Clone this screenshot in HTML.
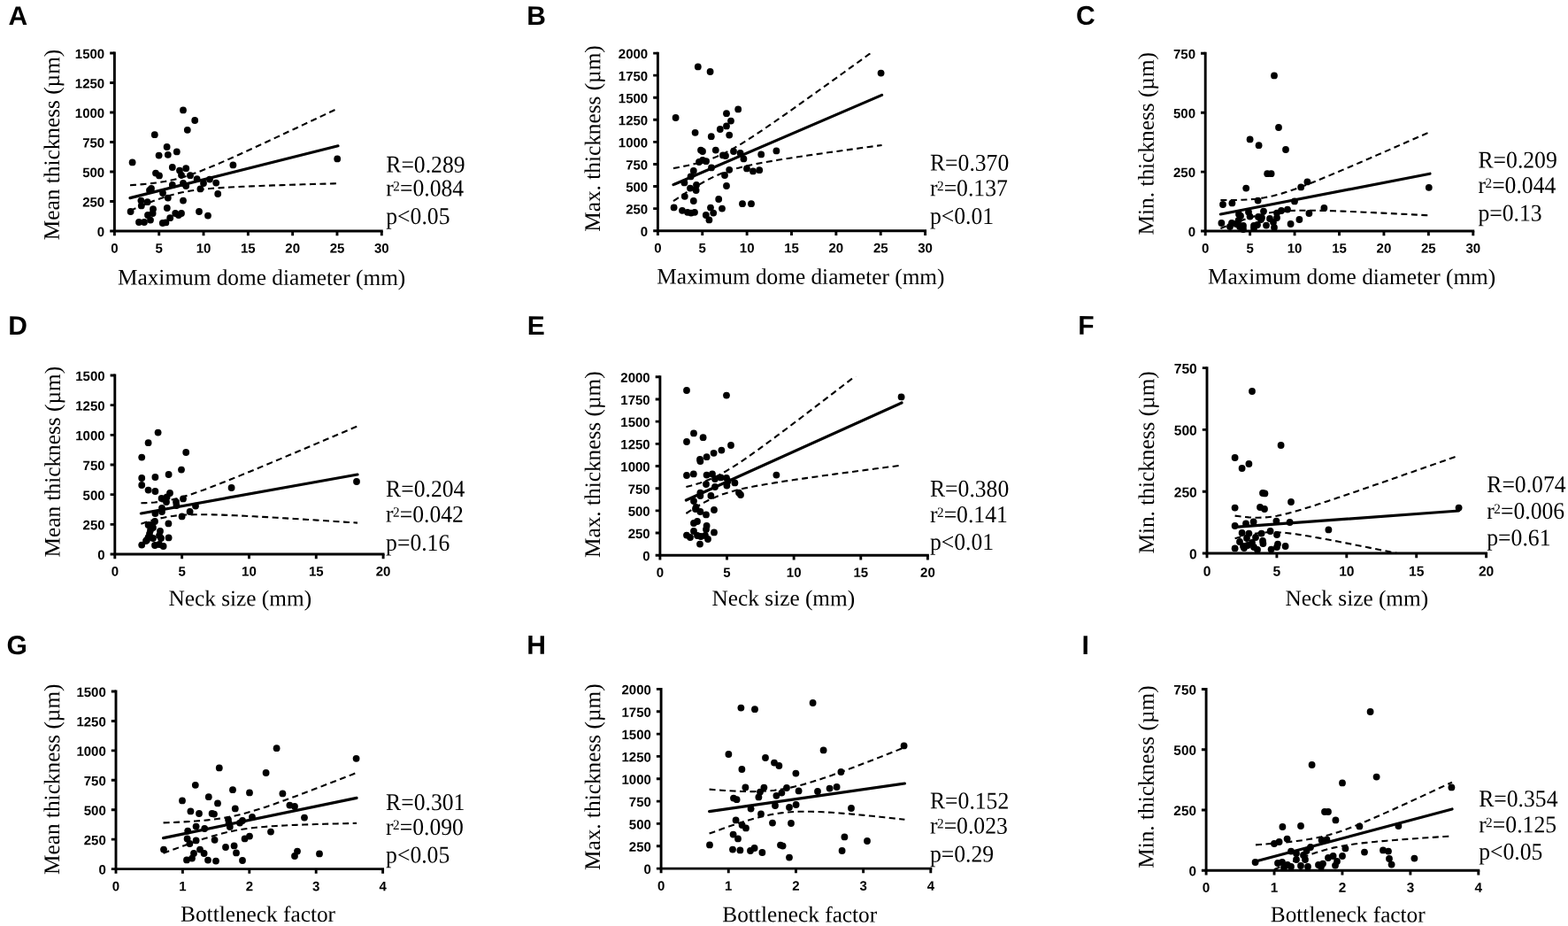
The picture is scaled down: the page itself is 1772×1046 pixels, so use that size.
<!DOCTYPE html>
<html><head><meta charset="utf-8"><title>Figure</title>
<style>html,body{margin:0;padding:0;background:#fff;overflow:hidden;}svg{display:block;}</style></head>
<body><svg width="1772" height="1046" viewBox="0 0 1772 1046">
<rect width="1772" height="1046" fill="#fff"/>
<clipPath id="cA"><rect x="129.4" y="60" width="301.9" height="201"/></clipPath>
<g clip-path="url(#cA)" fill="none" stroke="#000" stroke-width="2.1" stroke-dasharray="7 4.5"><polyline points="147,209.2 151.9,208.87 156.79,208.5 161.69,208.1 166.58,207.64 171.48,207.11 176.38,206.52 181.27,205.83 186.17,205.03 191.06,204.1 195.96,203.04 200.85,201.83 205.75,200.47 210.65,198.97 215.54,197.34 220.44,195.6 225.33,193.76 230.23,191.85 235.12,189.87 240.02,187.84 244.92,185.76 249.81,183.65 254.71,181.5 259.6,179.34 264.5,177.15 269.4,174.94 274.29,172.72 279.19,170.49 284.08,168.25 288.98,166 293.88,163.74 298.77,161.47 303.67,159.2 308.56,156.93 313.46,154.64 318.35,152.36 323.25,150.07 328.15,147.77 333.04,145.48 337.94,143.18 342.83,140.88 347.73,138.57 352.62,136.27 357.52,133.96 362.42,131.65 367.31,129.34 372.21,127.03 377.1,124.71 382,122.4"/><polyline points="147,238 151.9,235.88 156.79,233.8 161.69,231.75 166.58,229.76 171.48,227.84 176.38,225.98 181.27,224.22 186.17,222.57 191.06,221.05 195.96,219.66 200.85,218.42 205.75,217.33 210.65,216.38 215.54,215.56 220.44,214.85 225.33,214.24 230.23,213.7 235.12,213.23 240.02,212.81 244.92,212.44 249.81,212.1 254.71,211.8 259.6,211.51 264.5,211.25 269.4,211.01 274.29,210.78 279.19,210.56 284.08,210.35 288.98,210.15 293.88,209.96 298.77,209.78 303.67,209.6 308.56,209.42 313.46,209.26 318.35,209.09 323.25,208.93 328.15,208.78 333.04,208.62 337.94,208.47 342.83,208.32 347.73,208.18 352.62,208.03 357.52,207.89 362.42,207.75 367.31,207.61 372.21,207.47 377.1,207.34 382,207.2"/></g>
<line x1="147" y1="223.6" x2="382" y2="164.8" stroke="#000" stroke-width="3.2" stroke-linecap="round"/>
<g><circle cx="207" cy="124.4" r="3.9"/><circle cx="220.2" cy="136" r="3.9"/><circle cx="211.8" cy="146.8" r="3.9"/><circle cx="174.8" cy="152.2" r="3.9"/><circle cx="188.6" cy="166" r="3.9"/><circle cx="199.8" cy="171.4" r="3.9"/><circle cx="179.6" cy="175.6" r="3.9"/><circle cx="189.8" cy="174.8" r="3.9"/><circle cx="149.6" cy="183.4" r="3.9"/><circle cx="263.4" cy="186.4" r="3.9"/><circle cx="381.2" cy="179.4" r="3.9"/><circle cx="194.8" cy="189" r="3.9"/><circle cx="203" cy="192.6" r="3.9"/><circle cx="210.2" cy="190.2" r="3.9"/><circle cx="176" cy="195.6" r="3.9"/><circle cx="180" cy="198.4" r="3.9"/><circle cx="205" cy="197.8" r="3.9"/><circle cx="215" cy="198.2" r="3.9"/><circle cx="222.6" cy="202.2" r="3.9"/><circle cx="237" cy="202.6" r="3.9"/><circle cx="244.2" cy="206.6" r="3.9"/><circle cx="230" cy="207" r="3.9"/><circle cx="207" cy="207" r="3.9"/><circle cx="210.2" cy="210" r="3.9"/><circle cx="194.8" cy="209" r="3.9"/><circle cx="171" cy="213" r="3.9"/><circle cx="169" cy="215" r="3.9"/><circle cx="226.4" cy="213.4" r="3.9"/><circle cx="246.2" cy="219" r="3.9"/><circle cx="184" cy="218" r="3.9"/><circle cx="189.8" cy="223.6" r="3.9"/><circle cx="159.4" cy="226.6" r="3.9"/><circle cx="166.6" cy="228.2" r="3.9"/><circle cx="159.8" cy="232.4" r="3.9"/><circle cx="207" cy="226.6" r="3.9"/><circle cx="188.8" cy="235" r="3.9"/><circle cx="173" cy="236.2" r="3.9"/><circle cx="147.6" cy="239" r="3.9"/><circle cx="172.6" cy="241" r="3.9"/><circle cx="225" cy="239" r="3.9"/><circle cx="235" cy="243.6" r="3.9"/><circle cx="167" cy="243" r="3.9"/><circle cx="170" cy="248.6" r="3.9"/><circle cx="198.2" cy="241" r="3.9"/><circle cx="201.8" cy="243" r="3.9"/><circle cx="205" cy="241" r="3.9"/><circle cx="192.2" cy="246.2" r="3.9"/><circle cx="157" cy="251" r="3.9"/><circle cx="163" cy="251" r="3.9"/><circle cx="183.8" cy="252" r="3.9"/><circle cx="187.4" cy="251.4" r="3.9"/></g>
<path d="M129.4 60V261H431.3" fill="none" stroke="#000" stroke-width="2.9" stroke-linecap="square"/>
<path d="M124.2 261H129.4M124.2 227.5H129.4M124.2 194H129.4M124.2 160.5H129.4M124.2 127H129.4M124.2 93.5H129.4M124.2 60H129.4M129.4 261V266.2M179.72 261V266.2M230.03 261V266.2M280.35 261V266.2M330.67 261V266.2M380.98 261V266.2M431.3 261V266.2" fill="none" stroke="#000" stroke-width="2.9"/>
<g font-family="'Liberation Sans', Arial, sans-serif" font-weight="bold" font-size="15"><text transform="translate(118.2 267) rotate(0.1)" text-anchor="end">0</text><text transform="translate(118.2 233.5) rotate(0.1)" text-anchor="end">250</text><text transform="translate(118.2 200) rotate(0.1)" text-anchor="end">500</text><text transform="translate(118.2 166.5) rotate(0.1)" text-anchor="end">750</text><text transform="translate(118.2 133) rotate(0.1)" text-anchor="end">1000</text><text transform="translate(118.2 99.5) rotate(0.1)" text-anchor="end">1250</text><text transform="translate(118.2 66) rotate(0.1)" text-anchor="end">1500</text><text transform="translate(129.4 285.6) rotate(0.1)" text-anchor="middle">0</text><text transform="translate(179.72 285.6) rotate(0.1)" text-anchor="middle">5</text><text transform="translate(230.03 285.6) rotate(0.1)" text-anchor="middle">10</text><text transform="translate(280.35 285.6) rotate(0.1)" text-anchor="middle">15</text><text transform="translate(330.67 285.6) rotate(0.1)" text-anchor="middle">20</text><text transform="translate(380.98 285.6) rotate(0.1)" text-anchor="middle">25</text><text transform="translate(431.3 285.6) rotate(0.1)" text-anchor="middle">30</text></g>
<g font-family="'Liberation Serif', 'Times New Roman', serif" font-size="27"><text transform="translate(436.3 194.6) rotate(0.1) scale(0.95 1)">R=0.289</text><text transform="translate(436.3 221.3) rotate(0.1) scale(0.95 1)">r<tspan font-size="16" dx="-0.7" dy="-5.9">2</tspan><tspan dx="0.2" dy="5.9">=0.084</tspan></text><text transform="translate(436.3 252.9) rotate(0.1) scale(0.95 1)">p&lt;0.05</text></g>
<text transform="translate(133 321.5) rotate(0.1)" font-family="'Liberation Serif', 'Times New Roman', serif" font-size="25.3">Maximum dome diameter (mm)</text>
<text transform="translate(66.8 271.2) rotate(-89.9)" font-family="'Liberation Serif', 'Times New Roman', serif" font-size="25.3">Mean thickness (µm)</text>
<text transform="translate(9.4 28) rotate(0.1)" font-family="'Liberation Sans', Arial, sans-serif" font-weight="bold" font-size="30">A</text>
<clipPath id="cB"><rect x="743.4" y="60.1" width="302.2" height="200.6"/></clipPath>
<g clip-path="url(#cB)" fill="none" stroke="#000" stroke-width="2.1" stroke-dasharray="7 4.5"><polyline points="761,190.1 765.91,189.18 770.82,188.21 775.73,187.18 780.63,186.09 785.54,184.9 790.45,183.61 795.36,182.18 800.27,180.61 805.17,178.85 810.08,176.9 814.99,174.75 819.9,172.4 824.81,169.86 829.72,167.15 834.62,164.29 839.53,161.32 844.44,158.25 849.35,155.1 854.26,151.88 859.17,148.61 864.08,145.3 868.98,141.95 873.89,138.57 878.8,135.17 883.71,131.75 888.62,128.3 893.52,124.85 898.43,121.38 903.34,117.9 908.25,114.41 913.16,110.91 918.07,107.41 922.98,103.9 927.88,100.38 932.79,96.86 937.7,93.34 942.61,89.81 947.52,86.27 952.43,82.74 957.33,79.2 962.24,75.65 967.15,72.11 972.06,68.56 976.97,65.01 981.88,61.46 986.78,57.91 991.69,54.36 996.6,50.8"/><polyline points="761,227.1 765.91,223.8 770.82,220.56 775.73,217.37 780.63,214.25 785.54,211.22 790.45,208.29 795.36,205.5 800.27,202.86 805.17,200.4 810.08,198.13 814.99,196.07 819.9,194.2 824.81,192.53 829.72,191.02 834.62,189.66 839.53,188.41 844.44,187.27 849.35,186.2 854.26,185.2 859.17,184.25 864.08,183.35 868.98,182.48 873.89,181.65 878.8,180.83 883.71,180.04 888.62,179.26 893.52,178.5 898.43,177.75 903.34,177.02 908.25,176.29 913.16,175.57 918.07,174.86 922.98,174.15 927.88,173.45 932.79,172.75 937.7,172.06 942.61,171.38 947.52,170.69 952.43,170.01 957.33,169.34 962.24,168.66 967.15,167.99 972.06,167.32 976.97,166.65 981.88,165.99 986.78,165.32 991.69,164.66 996.6,164"/></g>
<line x1="761" y1="208.6" x2="996.6" y2="107.4" stroke="#000" stroke-width="3.2" stroke-linecap="round"/>
<g><circle cx="788.8" cy="75.4" r="3.9"/><circle cx="802.6" cy="81" r="3.9"/><circle cx="995.6" cy="82.6" r="3.9"/><circle cx="834.2" cy="123.4" r="3.9"/><circle cx="821" cy="128.2" r="3.9"/><circle cx="763.6" cy="133" r="3.9"/><circle cx="826" cy="136.6" r="3.9"/><circle cx="821" cy="142.4" r="3.9"/><circle cx="813.8" cy="146" r="3.9"/><circle cx="785.6" cy="149.8" r="3.9"/><circle cx="803.8" cy="154.2" r="3.9"/><circle cx="824.2" cy="152.6" r="3.9"/><circle cx="792" cy="169.6" r="3.9"/><circle cx="794" cy="171" r="3.9"/><circle cx="808.8" cy="169.6" r="3.9"/><circle cx="829" cy="171" r="3.9"/><circle cx="836.6" cy="173" r="3.9"/><circle cx="877.4" cy="170.4" r="3.9"/><circle cx="860.2" cy="174.4" r="3.9"/><circle cx="817" cy="175.4" r="3.9"/><circle cx="820" cy="176" r="3.9"/><circle cx="840.4" cy="179.4" r="3.9"/><circle cx="790" cy="183" r="3.9"/><circle cx="794" cy="181" r="3.9"/><circle cx="798" cy="182.2" r="3.9"/><circle cx="804" cy="189.4" r="3.9"/><circle cx="783.8" cy="193" r="3.9"/><circle cx="824.2" cy="191.8" r="3.9"/><circle cx="844" cy="190.4" r="3.9"/><circle cx="851" cy="193.4" r="3.9"/><circle cx="858.2" cy="192.2" r="3.9"/><circle cx="780.6" cy="199.4" r="3.9"/><circle cx="819" cy="198" r="3.9"/><circle cx="773.4" cy="206.4" r="3.9"/><circle cx="787" cy="209" r="3.9"/><circle cx="780" cy="212.6" r="3.9"/><circle cx="786.6" cy="215" r="3.9"/><circle cx="821" cy="210" r="3.9"/><circle cx="773.8" cy="221.8" r="3.9"/><circle cx="783.8" cy="227" r="3.9"/><circle cx="812.2" cy="225" r="3.9"/><circle cx="761.6" cy="234.4" r="3.9"/><circle cx="839" cy="230.2" r="3.9"/><circle cx="849" cy="230.2" r="3.9"/><circle cx="771" cy="237.8" r="3.9"/><circle cx="777" cy="239.8" r="3.9"/><circle cx="781" cy="240.6" r="3.9"/><circle cx="785" cy="239.8" r="3.9"/><circle cx="803" cy="234.6" r="3.9"/><circle cx="816" cy="235.6" r="3.9"/><circle cx="806.2" cy="240.6" r="3.9"/><circle cx="797.8" cy="243" r="3.9"/><circle cx="801.4" cy="248.4" r="3.9"/></g>
<path d="M743.4 60.1V260.7H1045.6" fill="none" stroke="#000" stroke-width="2.9" stroke-linecap="square"/>
<path d="M738.2 260.7H743.4M738.2 235.62H743.4M738.2 210.55H743.4M738.2 185.47H743.4M738.2 160.4H743.4M738.2 135.32H743.4M738.2 110.25H743.4M738.2 85.17H743.4M738.2 60.1H743.4M743.4 260.7V265.9M793.77 260.7V265.9M844.13 260.7V265.9M894.5 260.7V265.9M944.87 260.7V265.9M995.23 260.7V265.9M1045.6 260.7V265.9" fill="none" stroke="#000" stroke-width="2.9"/>
<g font-family="'Liberation Sans', Arial, sans-serif" font-weight="bold" font-size="15"><text transform="translate(732.2 266.7) rotate(0.1)" text-anchor="end">0</text><text transform="translate(732.2 241.62) rotate(0.1)" text-anchor="end">250</text><text transform="translate(732.2 216.55) rotate(0.1)" text-anchor="end">500</text><text transform="translate(732.2 191.47) rotate(0.1)" text-anchor="end">750</text><text transform="translate(732.2 166.4) rotate(0.1)" text-anchor="end">1000</text><text transform="translate(732.2 141.32) rotate(0.1)" text-anchor="end">1250</text><text transform="translate(732.2 116.25) rotate(0.1)" text-anchor="end">1500</text><text transform="translate(732.2 91.17) rotate(0.1)" text-anchor="end">1750</text><text transform="translate(732.2 66.1) rotate(0.1)" text-anchor="end">2000</text><text transform="translate(743.4 285.3) rotate(0.1)" text-anchor="middle">0</text><text transform="translate(793.77 285.3) rotate(0.1)" text-anchor="middle">5</text><text transform="translate(844.13 285.3) rotate(0.1)" text-anchor="middle">10</text><text transform="translate(894.5 285.3) rotate(0.1)" text-anchor="middle">15</text><text transform="translate(944.87 285.3) rotate(0.1)" text-anchor="middle">20</text><text transform="translate(995.23 285.3) rotate(0.1)" text-anchor="middle">25</text><text transform="translate(1045.6 285.3) rotate(0.1)" text-anchor="middle">30</text></g>
<g font-family="'Liberation Serif', 'Times New Roman', serif" font-size="27"><text transform="translate(1051 192.6) rotate(0.1) scale(0.95 1)">R=0.370</text><text transform="translate(1051 221.2) rotate(0.1) scale(0.95 1)">r<tspan font-size="16" dx="-0.7" dy="-5.9">2</tspan><tspan dx="0.2" dy="5.9">=0.137</tspan></text><text transform="translate(1051 252.8) rotate(0.1) scale(0.95 1)">p&lt;0.01</text></g>
<text transform="translate(742.2 320.5) rotate(0.1)" font-family="'Liberation Serif', 'Times New Roman', serif" font-size="25.3">Maximum dome diameter (mm)</text>
<text transform="translate(678 261.8) rotate(-89.9)" font-family="'Liberation Serif', 'Times New Roman', serif" font-size="25.3">Max. thickness (µm)</text>
<text transform="translate(595.3 28) rotate(0.1)" font-family="'Liberation Sans', Arial, sans-serif" font-weight="bold" font-size="30">B</text>
<clipPath id="cC"><rect x="1362.2" y="60.3" width="302.6" height="200.7"/></clipPath>
<g clip-path="url(#cC)" fill="none" stroke="#000" stroke-width="2.1" stroke-dasharray="7 4.5"><polyline points="1379.4,226 1384.33,226.05 1389.26,226.06 1394.19,226.02 1399.12,225.93 1404.05,225.77 1408.98,225.52 1413.9,225.17 1418.83,224.7 1423.76,224.09 1428.69,223.32 1433.62,222.38 1438.55,221.28 1443.48,220.02 1448.41,218.62 1453.34,217.09 1458.27,215.45 1463.2,213.72 1468.12,211.92 1473.05,210.06 1477.98,208.15 1482.91,206.2 1487.84,204.22 1492.77,202.21 1497.7,200.18 1502.63,198.14 1507.56,196.07 1512.49,193.99 1517.42,191.9 1522.35,189.8 1527.28,187.69 1532.2,185.58 1537.13,183.45 1542.06,181.33 1546.99,179.19 1551.92,177.05 1556.85,174.91 1561.78,172.77 1566.71,170.62 1571.64,168.46 1576.57,166.31 1581.5,164.15 1586.42,161.99 1591.35,159.83 1596.28,157.67 1601.21,155.5 1606.14,153.34 1611.07,151.17 1616,149"/><polyline points="1379.4,258 1384.33,256.04 1389.26,254.13 1394.19,252.25 1399.12,250.44 1404.05,248.69 1408.98,247.03 1413.9,245.47 1418.83,244.03 1423.76,242.74 1428.69,241.6 1433.62,240.62 1438.55,239.82 1443.48,239.17 1448.41,238.67 1453.34,238.29 1458.27,238.02 1463.2,237.84 1468.12,237.73 1473.05,237.68 1477.98,237.68 1482.91,237.72 1487.84,237.79 1492.77,237.89 1497.7,238.02 1502.63,238.16 1507.56,238.31 1512.49,238.48 1517.42,238.66 1522.35,238.86 1527.28,239.06 1532.2,239.26 1537.13,239.48 1542.06,239.7 1546.99,239.92 1551.92,240.15 1556.85,240.39 1561.78,240.63 1566.71,240.87 1571.64,241.11 1576.57,241.36 1581.5,241.61 1586.42,241.86 1591.35,242.11 1596.28,242.36 1601.21,242.62 1606.14,242.88 1611.07,243.14 1616,243.4"/></g>
<line x1="1379.4" y1="242" x2="1616" y2="196.2" stroke="#000" stroke-width="3.2" stroke-linecap="round"/>
<g><circle cx="1440" cy="85.4" r="3.9"/><circle cx="1445" cy="144" r="3.9"/><circle cx="1412.6" cy="157.4" r="3.9"/><circle cx="1422.6" cy="164.2" r="3.9"/><circle cx="1453" cy="169" r="3.9"/><circle cx="1432.2" cy="196.2" r="3.9"/><circle cx="1436.6" cy="196.2" r="3.9"/><circle cx="1408.2" cy="212.6" r="3.9"/><circle cx="1470.2" cy="211.4" r="3.9"/><circle cx="1477.4" cy="205.4" r="3.9"/><circle cx="1614.8" cy="211.8" r="3.9"/><circle cx="1382" cy="231" r="3.9"/><circle cx="1392.4" cy="229.4" r="3.9"/><circle cx="1421.6" cy="226.6" r="3.9"/><circle cx="1463" cy="227.4" r="3.9"/><circle cx="1496.4" cy="235" r="3.9"/><circle cx="1455" cy="236.6" r="3.9"/><circle cx="1448" cy="238" r="3.9"/><circle cx="1443" cy="240.6" r="3.9"/><circle cx="1428" cy="238.6" r="3.9"/><circle cx="1411" cy="239.4" r="3.9"/><circle cx="1400" cy="242" r="3.9"/><circle cx="1402" cy="244" r="3.9"/><circle cx="1412.6" cy="244.6" r="3.9"/><circle cx="1422" cy="245" r="3.9"/><circle cx="1426" cy="246" r="3.9"/><circle cx="1435" cy="247" r="3.9"/><circle cx="1443" cy="246" r="3.9"/><circle cx="1479.4" cy="241" r="3.9"/><circle cx="1380.4" cy="252" r="3.9"/><circle cx="1392" cy="252" r="3.9"/><circle cx="1399.6" cy="249" r="3.9"/><circle cx="1405" cy="255" r="3.9"/><circle cx="1417" cy="255" r="3.9"/><circle cx="1421" cy="254" r="3.9"/><circle cx="1431" cy="254.6" r="3.9"/><circle cx="1439" cy="251" r="3.9"/><circle cx="1440" cy="257" r="3.9"/><circle cx="1458.6" cy="253" r="3.9"/><circle cx="1468.4" cy="248" r="3.9"/><circle cx="1390" cy="256" r="3.9"/><circle cx="1401" cy="256" r="3.9"/><circle cx="1405" cy="259" r="3.9"/><circle cx="1417" cy="258" r="3.9"/><circle cx="1397" cy="253" r="3.9"/><circle cx="1425" cy="248" r="3.9"/></g>
<path d="M1362.2 60.3V261H1664.8" fill="none" stroke="#000" stroke-width="2.9" stroke-linecap="square"/>
<path d="M1357 261H1362.2M1357 194.1H1362.2M1357 127.2H1362.2M1357 60.3H1362.2M1362.2 261V266.2M1412.63 261V266.2M1463.07 261V266.2M1513.5 261V266.2M1563.93 261V266.2M1614.37 261V266.2M1664.8 261V266.2" fill="none" stroke="#000" stroke-width="2.9"/>
<g font-family="'Liberation Sans', Arial, sans-serif" font-weight="bold" font-size="15"><text transform="translate(1351 267) rotate(0.1)" text-anchor="end">0</text><text transform="translate(1351 200.1) rotate(0.1)" text-anchor="end">250</text><text transform="translate(1351 133.2) rotate(0.1)" text-anchor="end">500</text><text transform="translate(1351 66.3) rotate(0.1)" text-anchor="end">750</text><text transform="translate(1362.2 285.6) rotate(0.1)" text-anchor="middle">0</text><text transform="translate(1412.63 285.6) rotate(0.1)" text-anchor="middle">5</text><text transform="translate(1463.07 285.6) rotate(0.1)" text-anchor="middle">10</text><text transform="translate(1513.5 285.6) rotate(0.1)" text-anchor="middle">15</text><text transform="translate(1563.93 285.6) rotate(0.1)" text-anchor="middle">20</text><text transform="translate(1614.37 285.6) rotate(0.1)" text-anchor="middle">25</text><text transform="translate(1664.8 285.6) rotate(0.1)" text-anchor="middle">30</text></g>
<g font-family="'Liberation Serif', 'Times New Roman', serif" font-size="27"><text transform="translate(1670.5 189.4) rotate(0.1) scale(0.95 1)">R=0.209</text><text transform="translate(1670.5 218) rotate(0.1) scale(0.95 1)">r<tspan font-size="16" dx="-0.7" dy="-5.9">2</tspan><tspan dx="0.2" dy="5.9">=0.044</tspan></text><text transform="translate(1670.5 249.5) rotate(0.1) scale(0.95 1)">p=0.13</text></g>
<text transform="translate(1364.9 320.6) rotate(0.1)" font-family="'Liberation Serif', 'Times New Roman', serif" font-size="25.3">Maximum dome diameter (mm)</text>
<text transform="translate(1303.5 265.4) rotate(-89.9)" font-family="'Liberation Serif', 'Times New Roman', serif" font-size="25.3">Min. thickness (µm)</text>
<text transform="translate(1216.1 27.8) rotate(0.1)" font-family="'Liberation Sans', Arial, sans-serif" font-weight="bold" font-size="30">C</text>
<clipPath id="cD"><rect x="129.8" y="424" width="303.3" height="202"/></clipPath>
<g clip-path="url(#cD)" fill="none" stroke="#000" stroke-width="2.1" stroke-dasharray="7 4.5"><polyline points="159.4,568.3 164.5,568.12 169.59,567.84 174.69,567.44 179.78,566.89 184.88,566.17 189.97,565.29 195.07,564.23 200.17,563 205.26,561.63 210.36,560.12 215.45,558.5 220.55,556.78 225.65,554.99 230.74,553.14 235.84,551.25 240.93,549.31 246.03,547.33 251.12,545.33 256.22,543.31 261.32,541.26 266.41,539.2 271.51,537.13 276.6,535.05 281.7,532.95 286.8,530.85 291.89,528.74 296.99,526.62 302.08,524.49 307.18,522.37 312.27,520.23 317.37,518.1 322.47,515.95 327.56,513.81 332.66,511.66 337.75,509.51 342.85,507.36 347.95,505.2 353.04,503.05 358.14,500.89 363.23,498.73 368.33,496.57 373.42,494.4 378.52,492.24 383.62,490.07 388.71,487.91 393.81,485.74 398.9,483.57 404,481.4"/><polyline points="159.4,591.7 164.5,590.04 169.59,588.49 174.69,587.06 179.78,585.78 184.88,584.66 189.97,583.71 195.07,582.94 200.17,582.33 205.26,581.87 210.36,581.55 215.45,581.34 220.55,581.22 225.65,581.17 230.74,581.19 235.84,581.25 240.93,581.36 246.03,581.5 251.12,581.67 256.22,581.86 261.32,582.07 266.41,582.3 271.51,582.54 276.6,582.79 281.7,583.05 286.8,583.32 291.89,583.6 296.99,583.88 302.08,584.17 307.18,584.47 312.27,584.77 317.37,585.07 322.47,585.38 327.56,585.69 332.66,586 337.75,586.32 342.85,586.64 347.95,586.96 353.04,587.29 358.14,587.61 363.23,587.94 368.33,588.27 373.42,588.6 378.52,588.93 383.62,589.26 388.71,589.59 393.81,589.93 398.9,590.26 404,590.6"/></g>
<line x1="159.4" y1="580" x2="404" y2="536" stroke="#000" stroke-width="3.2" stroke-linecap="round"/>
<g><circle cx="178.6" cy="488.6" r="3.9"/><circle cx="167.6" cy="500.2" r="3.9"/><circle cx="210.2" cy="511" r="3.9"/><circle cx="160.2" cy="516.6" r="3.9"/><circle cx="205" cy="530.6" r="3.9"/><circle cx="190.6" cy="536" r="3.9"/><circle cx="160.2" cy="540" r="3.9"/><circle cx="175.4" cy="539" r="3.9"/><circle cx="160.2" cy="548" r="3.9"/><circle cx="167.6" cy="553.6" r="3.9"/><circle cx="175.4" cy="555" r="3.9"/><circle cx="261.6" cy="551" r="3.9"/><circle cx="403" cy="544" r="3.9"/><circle cx="192" cy="557" r="3.9"/><circle cx="182.6" cy="563" r="3.9"/><circle cx="188.6" cy="561.4" r="3.9"/><circle cx="188" cy="567" r="3.9"/><circle cx="207" cy="563.4" r="3.9"/><circle cx="199" cy="567" r="3.9"/><circle cx="199.4" cy="571" r="3.9"/><circle cx="221" cy="571.6" r="3.9"/><circle cx="183" cy="574" r="3.9"/><circle cx="183" cy="578" r="3.9"/><circle cx="214.6" cy="578" r="3.9"/><circle cx="175.4" cy="580" r="3.9"/><circle cx="205.6" cy="583.4" r="3.9"/><circle cx="190.4" cy="591.4" r="3.9"/><circle cx="175" cy="589" r="3.9"/><circle cx="171" cy="593" r="3.9"/><circle cx="167.6" cy="593" r="3.9"/><circle cx="173" cy="596" r="3.9"/><circle cx="170" cy="599" r="3.9"/><circle cx="181" cy="600" r="3.9"/><circle cx="169" cy="603" r="3.9"/><circle cx="180" cy="605" r="3.9"/><circle cx="167.6" cy="607" r="3.9"/><circle cx="173" cy="608" r="3.9"/><circle cx="182" cy="608" r="3.9"/><circle cx="190.6" cy="607.4" r="3.9"/><circle cx="165" cy="611" r="3.9"/><circle cx="160.2" cy="615.6" r="3.9"/><circle cx="175" cy="616" r="3.9"/><circle cx="180" cy="615" r="3.9"/><circle cx="184.6" cy="617" r="3.9"/><circle cx="166" cy="610" r="3.9"/></g>
<path d="M129.8 424V626H433.1" fill="none" stroke="#000" stroke-width="2.9" stroke-linecap="square"/>
<path d="M124.6 626H129.8M124.6 592.33H129.8M124.6 558.67H129.8M124.6 525H129.8M124.6 491.33H129.8M124.6 457.67H129.8M124.6 424H129.8M129.8 626V631.2M205.62 626V631.2M281.45 626V631.2M357.28 626V631.2M433.1 626V631.2" fill="none" stroke="#000" stroke-width="2.9"/>
<g font-family="'Liberation Sans', Arial, sans-serif" font-weight="bold" font-size="15"><text transform="translate(118.6 632) rotate(0.1)" text-anchor="end">0</text><text transform="translate(118.6 598.33) rotate(0.1)" text-anchor="end">250</text><text transform="translate(118.6 564.67) rotate(0.1)" text-anchor="end">500</text><text transform="translate(118.6 531) rotate(0.1)" text-anchor="end">750</text><text transform="translate(118.6 497.33) rotate(0.1)" text-anchor="end">1000</text><text transform="translate(118.6 463.67) rotate(0.1)" text-anchor="end">1250</text><text transform="translate(118.6 430) rotate(0.1)" text-anchor="end">1500</text><text transform="translate(129.8 650.6) rotate(0.1)" text-anchor="middle">0</text><text transform="translate(205.62 650.6) rotate(0.1)" text-anchor="middle">5</text><text transform="translate(281.45 650.6) rotate(0.1)" text-anchor="middle">10</text><text transform="translate(357.28 650.6) rotate(0.1)" text-anchor="middle">15</text><text transform="translate(433.1 650.6) rotate(0.1)" text-anchor="middle">20</text></g>
<g font-family="'Liberation Serif', 'Times New Roman', serif" font-size="27"><text transform="translate(436.1 560.9) rotate(0.1) scale(0.95 1)">R=0.204</text><text transform="translate(436.1 589.6) rotate(0.1) scale(0.95 1)">r<tspan font-size="16" dx="-0.7" dy="-5.9">2</tspan><tspan dx="0.2" dy="5.9">=0.042</tspan></text><text transform="translate(436.1 621.8) rotate(0.1) scale(0.95 1)">p=0.16</text></g>
<text transform="translate(190.5 684.1) rotate(0.1)" font-family="'Liberation Serif', 'Times New Roman', serif" font-size="25.3">Neck size (mm)</text>
<text transform="translate(67.6 629.4) rotate(-89.9)" font-family="'Liberation Serif', 'Times New Roman', serif" font-size="25.3">Mean thickness (µm)</text>
<text transform="translate(9.2 378) rotate(0.1)" font-family="'Liberation Sans', Arial, sans-serif" font-weight="bold" font-size="30">D</text>
<clipPath id="cE"><rect x="745.9" y="425.8" width="302.5" height="201.4"/></clipPath>
<g clip-path="url(#cE)" fill="none" stroke="#000" stroke-width="2.1" stroke-dasharray="7 4.5"><polyline points="775.4,550 780.48,548.73 785.55,547.32 790.62,545.76 795.7,544.01 800.77,542.04 805.85,539.84 810.92,537.4 816,534.74 821.07,531.86 826.15,528.8 831.23,525.59 836.3,522.26 841.38,518.82 846.45,515.3 851.52,511.72 856.6,508.09 861.67,504.41 866.75,500.69 871.83,496.95 876.9,493.18 881.98,489.39 887.05,485.59 892.12,481.77 897.2,477.94 902.27,474.09 907.35,470.24 912.42,466.38 917.5,462.51 922.58,458.64 927.65,454.76 932.73,450.87 937.8,446.99 942.88,443.09 947.95,439.19 953.02,435.29 958.1,431.39 963.17,427.49 968.25,423.58 973.33,419.67 978.4,415.76 983.48,411.84 988.55,407.93 993.62,404.01 998.7,400.09 1003.77,396.17 1008.85,392.25 1013.92,388.32 1019,384.4"/><polyline points="775.4,580 780.48,576.69 785.55,573.51 790.62,570.49 795.7,567.66 800.77,565.04 805.85,562.66 810.92,560.51 816,558.6 821.07,556.89 826.15,555.36 831.23,553.99 836.3,552.74 841.38,551.6 846.45,550.53 851.52,549.53 856.6,548.58 861.67,547.68 866.75,546.81 871.83,545.97 876.9,545.15 881.98,544.36 887.05,543.58 892.12,542.81 897.2,542.06 902.27,541.32 907.35,540.59 912.42,539.87 917.5,539.15 922.58,538.44 927.65,537.74 932.73,537.04 937.8,536.35 942.88,535.66 947.95,534.97 953.02,534.29 958.1,533.61 963.17,532.93 968.25,532.26 973.33,531.58 978.4,530.91 983.48,530.24 988.55,529.57 993.62,528.91 998.7,528.24 1003.77,527.58 1008.85,526.92 1013.92,526.26 1019,525.6"/></g>
<line x1="775.4" y1="565" x2="1019" y2="455" stroke="#000" stroke-width="3.2" stroke-linecap="round"/>
<g><circle cx="776" cy="441" r="3.9"/><circle cx="821" cy="446.6" r="3.9"/><circle cx="1018.6" cy="448.4" r="3.9"/><circle cx="784" cy="489.4" r="3.9"/><circle cx="794.6" cy="494.2" r="3.9"/><circle cx="776" cy="499" r="3.9"/><circle cx="826" cy="503" r="3.9"/><circle cx="815.4" cy="508.6" r="3.9"/><circle cx="806.6" cy="511.8" r="3.9"/><circle cx="798.6" cy="516.2" r="3.9"/><circle cx="791" cy="519" r="3.9"/><circle cx="791.4" cy="521" r="3.9"/><circle cx="776" cy="537" r="3.9"/><circle cx="783.8" cy="535.4" r="3.9"/><circle cx="798.6" cy="536.6" r="3.9"/><circle cx="805" cy="535.4" r="3.9"/><circle cx="808" cy="541" r="3.9"/><circle cx="814.6" cy="539.4" r="3.9"/><circle cx="821" cy="539.8" r="3.9"/><circle cx="822.6" cy="543.4" r="3.9"/><circle cx="830.4" cy="545.4" r="3.9"/><circle cx="798" cy="547" r="3.9"/><circle cx="808" cy="550" r="3.9"/><circle cx="821.4" cy="548.6" r="3.9"/><circle cx="791.4" cy="556.6" r="3.9"/><circle cx="791.4" cy="560" r="3.9"/><circle cx="803.4" cy="560" r="3.9"/><circle cx="835" cy="556.6" r="3.9"/><circle cx="837" cy="559" r="3.9"/><circle cx="877.4" cy="536.6" r="3.9"/><circle cx="784" cy="566" r="3.9"/><circle cx="786.6" cy="573" r="3.9"/><circle cx="786" cy="575" r="3.9"/><circle cx="791.4" cy="578" r="3.9"/><circle cx="798" cy="581.4" r="3.9"/><circle cx="807" cy="576" r="3.9"/><circle cx="788" cy="589" r="3.9"/><circle cx="784" cy="591" r="3.9"/><circle cx="798.6" cy="594" r="3.9"/><circle cx="798" cy="598" r="3.9"/><circle cx="784" cy="600" r="3.9"/><circle cx="807" cy="601.4" r="3.9"/><circle cx="776" cy="604.6" r="3.9"/><circle cx="780" cy="607" r="3.9"/><circle cx="792" cy="606" r="3.9"/><circle cx="797" cy="605" r="3.9"/><circle cx="800" cy="609" r="3.9"/><circle cx="791" cy="614.6" r="3.9"/><circle cx="788" cy="605" r="3.9"/></g>
<path d="M745.9 425.8V627.2H1048.4" fill="none" stroke="#000" stroke-width="2.9" stroke-linecap="square"/>
<path d="M740.7 627.2H745.9M740.7 602.03H745.9M740.7 576.85H745.9M740.7 551.68H745.9M740.7 526.5H745.9M740.7 501.33H745.9M740.7 476.15H745.9M740.7 450.98H745.9M740.7 425.8H745.9M745.9 627.2V632.4M821.52 627.2V632.4M897.15 627.2V632.4M972.78 627.2V632.4M1048.4 627.2V632.4" fill="none" stroke="#000" stroke-width="2.9"/>
<g font-family="'Liberation Sans', Arial, sans-serif" font-weight="bold" font-size="15"><text transform="translate(734.7 633.2) rotate(0.1)" text-anchor="end">0</text><text transform="translate(734.7 608.03) rotate(0.1)" text-anchor="end">250</text><text transform="translate(734.7 582.85) rotate(0.1)" text-anchor="end">500</text><text transform="translate(734.7 557.68) rotate(0.1)" text-anchor="end">750</text><text transform="translate(734.7 532.5) rotate(0.1)" text-anchor="end">1000</text><text transform="translate(734.7 507.33) rotate(0.1)" text-anchor="end">1250</text><text transform="translate(734.7 482.15) rotate(0.1)" text-anchor="end">1500</text><text transform="translate(734.7 456.98) rotate(0.1)" text-anchor="end">1750</text><text transform="translate(734.7 431.8) rotate(0.1)" text-anchor="end">2000</text><text transform="translate(745.9 651.8) rotate(0.1)" text-anchor="middle">0</text><text transform="translate(821.52 651.8) rotate(0.1)" text-anchor="middle">5</text><text transform="translate(897.15 651.8) rotate(0.1)" text-anchor="middle">10</text><text transform="translate(972.78 651.8) rotate(0.1)" text-anchor="middle">15</text><text transform="translate(1048.4 651.8) rotate(0.1)" text-anchor="middle">20</text></g>
<g font-family="'Liberation Serif', 'Times New Roman', serif" font-size="27"><text transform="translate(1051 560.8) rotate(0.1) scale(0.95 1)">R=0.380</text><text transform="translate(1051 589.9) rotate(0.1) scale(0.95 1)">r<tspan font-size="16" dx="-0.7" dy="-5.9">2</tspan><tspan dx="0.2" dy="5.9">=0.141</tspan></text><text transform="translate(1051 620.9) rotate(0.1) scale(0.95 1)">p&lt;0.01</text></g>
<text transform="translate(804.6 683.9) rotate(0.1)" font-family="'Liberation Serif', 'Times New Roman', serif" font-size="25.3">Neck size (mm)</text>
<text transform="translate(678 630) rotate(-89.9)" font-family="'Liberation Serif', 'Times New Roman', serif" font-size="25.3">Max. thickness (µm)</text>
<text transform="translate(595.8 378) rotate(0.1)" font-family="'Liberation Sans', Arial, sans-serif" font-weight="bold" font-size="30">E</text>
<clipPath id="cF"><rect x="1364" y="415.6" width="315.6" height="209.4"/></clipPath>
<g clip-path="url(#cF)" fill="none" stroke="#000" stroke-width="2.1" stroke-dasharray="7 4.5"><polyline points="1395.6,582.6 1400.87,583.29 1406.14,583.89 1411.41,584.35 1416.68,584.65 1421.95,584.75 1427.22,584.62 1432.5,584.22 1437.77,583.57 1443.04,582.69 1448.31,581.6 1453.58,580.36 1458.85,578.99 1464.12,577.52 1469.39,575.98 1474.66,574.38 1479.93,572.74 1485.2,571.06 1490.47,569.35 1495.75,567.62 1501.02,565.88 1506.29,564.11 1511.56,562.34 1516.83,560.55 1522.1,558.76 1527.37,556.95 1532.64,555.15 1537.91,553.33 1543.18,551.51 1548.45,549.69 1553.72,547.86 1559,546.03 1564.27,544.19 1569.54,542.35 1574.81,540.51 1580.08,538.67 1585.35,536.83 1590.62,534.98 1595.89,533.14 1601.16,531.29 1606.43,529.44 1611.7,527.59 1616.97,525.73 1622.25,523.88 1627.52,522.03 1632.79,520.17 1638.06,518.31 1643.33,516.46 1648.6,514.6"/><polyline points="1395.6,608.2 1400.87,606.74 1406.14,605.38 1411.41,604.15 1416.68,603.08 1421.95,602.21 1427.22,601.58 1432.5,601.21 1437.77,601.09 1443.04,601.21 1448.31,601.53 1453.58,602.01 1458.85,602.61 1464.12,603.31 1469.39,604.09 1474.66,604.92 1479.93,605.79 1485.2,606.71 1490.47,607.65 1495.75,608.61 1501.02,609.59 1506.29,610.59 1511.56,611.59 1516.83,612.61 1522.1,613.64 1527.37,614.68 1532.64,615.72 1537.91,616.77 1543.18,617.82 1548.45,618.88 1553.72,619.94 1559,621.01 1564.27,622.08 1569.54,623.15 1574.81,624.22 1580.08,625.29 1585.35,626.37 1590.62,627.45 1595.89,628.53 1601.16,629.61 1606.43,630.7 1611.7,631.78 1616.97,632.87 1622.25,633.95 1627.52,635.04 1632.79,636.13 1638.06,637.22 1643.33,638.31 1648.6,639.4"/></g>
<line x1="1395.6" y1="595.4" x2="1648.6" y2="577" stroke="#000" stroke-width="3.2" stroke-linecap="round"/>
<g><circle cx="1415" cy="442" r="3.9"/><circle cx="1447.6" cy="503" r="3.9"/><circle cx="1395.6" cy="517" r="3.9"/><circle cx="1411.4" cy="524" r="3.9"/><circle cx="1403.6" cy="529" r="3.9"/><circle cx="1427" cy="557" r="3.9"/><circle cx="1429.4" cy="557.4" r="3.9"/><circle cx="1459" cy="567" r="3.9"/><circle cx="1395.6" cy="573.6" r="3.9"/><circle cx="1424" cy="573" r="3.9"/><circle cx="1429" cy="575" r="3.9"/><circle cx="1648.6" cy="573.6" r="3.9"/><circle cx="1395.6" cy="594" r="3.9"/><circle cx="1408" cy="591.4" r="3.9"/><circle cx="1416.6" cy="589.4" r="3.9"/><circle cx="1442.4" cy="588.6" r="3.9"/><circle cx="1457.6" cy="590" r="3.9"/><circle cx="1501.4" cy="598.4" r="3.9"/><circle cx="1403.6" cy="602" r="3.9"/><circle cx="1411.4" cy="602.6" r="3.9"/><circle cx="1425.6" cy="602.6" r="3.9"/><circle cx="1435.6" cy="600" r="3.9"/><circle cx="1443" cy="604" r="3.9"/><circle cx="1419" cy="607" r="3.9"/><circle cx="1409" cy="608" r="3.9"/><circle cx="1401" cy="612" r="3.9"/><circle cx="1427" cy="611" r="3.9"/><circle cx="1415" cy="613" r="3.9"/><circle cx="1427.4" cy="614" r="3.9"/><circle cx="1405" cy="617" r="3.9"/><circle cx="1410" cy="616" r="3.9"/><circle cx="1417" cy="618" r="3.9"/><circle cx="1444" cy="614.6" r="3.9"/><circle cx="1452.6" cy="617" r="3.9"/><circle cx="1395.6" cy="619.4" r="3.9"/><circle cx="1421" cy="621" r="3.9"/><circle cx="1436.6" cy="620.6" r="3.9"/><circle cx="1443" cy="618" r="3.9"/><circle cx="1406" cy="619" r="3.9"/></g>
<path d="M1364 415.6V625H1679.6" fill="none" stroke="#000" stroke-width="2.9" stroke-linecap="square"/>
<path d="M1358.8 625H1364M1358.8 555.2H1364M1358.8 485.4H1364M1358.8 415.6H1364M1364 625V630.2M1442.9 625V630.2M1521.8 625V630.2M1600.7 625V630.2M1679.6 625V630.2" fill="none" stroke="#000" stroke-width="2.9"/>
<g font-family="'Liberation Sans', Arial, sans-serif" font-weight="bold" font-size="15.6"><text transform="translate(1352.8 631.24) rotate(0.1)" text-anchor="end">0</text><text transform="translate(1352.8 561.44) rotate(0.1)" text-anchor="end">250</text><text transform="translate(1352.8 491.64) rotate(0.1)" text-anchor="end">500</text><text transform="translate(1352.8 421.84) rotate(0.1)" text-anchor="end">750</text><text transform="translate(1364 650.4) rotate(0.1)" text-anchor="middle">0</text><text transform="translate(1442.9 650.4) rotate(0.1)" text-anchor="middle">5</text><text transform="translate(1521.8 650.4) rotate(0.1)" text-anchor="middle">10</text><text transform="translate(1600.7 650.4) rotate(0.1)" text-anchor="middle">15</text><text transform="translate(1679.6 650.4) rotate(0.1)" text-anchor="middle">20</text></g>
<g font-family="'Liberation Serif', 'Times New Roman', serif" font-size="27"><text transform="translate(1680.3 555.9) rotate(0.1) scale(0.95 1)">R=0.074</text><text transform="translate(1680.3 585.9) rotate(0.1) scale(0.95 1)">r<tspan font-size="16" dx="-0.7" dy="-5.9">2</tspan><tspan dx="0.2" dy="5.9">=0.006</tspan></text><text transform="translate(1680.3 616.1) rotate(0.1) scale(0.95 1)">p=0.61</text></g>
<text transform="translate(1452.6 684) rotate(0.1)" font-family="'Liberation Serif', 'Times New Roman', serif" font-size="25.3">Neck size (mm)</text>
<text transform="translate(1303.9 625.6) rotate(-89.9)" font-family="'Liberation Serif', 'Times New Roman', serif" font-size="25.3">Min. thickness (µm)</text>
<text transform="translate(1218.3 377.8) rotate(0.1)" font-family="'Liberation Sans', Arial, sans-serif" font-weight="bold" font-size="30">F</text>
<clipPath id="cG"><rect x="131" y="781" width="301.6" height="200.6"/></clipPath>
<g clip-path="url(#cG)" fill="none" stroke="#000" stroke-width="2.1" stroke-dasharray="7 4.5"><polyline points="184.6,929.4 189.15,929.22 193.7,929.03 198.25,928.83 202.8,928.61 207.35,928.37 211.9,928.11 216.45,927.83 221,927.51 225.55,927.16 230.1,926.77 234.65,926.33 239.2,925.83 243.75,925.27 248.3,924.64 252.85,923.93 257.4,923.13 261.95,922.24 266.5,921.26 271.05,920.19 275.6,919.03 280.15,917.79 284.7,916.47 289.25,915.09 293.8,913.66 298.35,912.17 302.9,910.64 307.45,909.08 312,907.49 316.55,905.87 321.1,904.23 325.65,902.56 330.2,900.89 334.75,899.19 339.3,897.49 343.85,895.77 348.4,894.05 352.95,892.32 357.5,890.57 362.05,888.83 366.6,887.07 371.15,885.32 375.7,883.55 380.25,881.79 384.8,880.01 389.35,878.24 393.9,876.46 398.45,874.68 403,872.9"/><polyline points="184.6,963.8 189.15,962.09 193.7,960.4 198.25,958.72 202.8,957.06 207.35,955.41 211.9,953.79 216.45,952.19 221,950.62 225.55,949.09 230.1,947.6 234.65,946.16 239.2,944.77 243.75,943.44 248.3,942.19 252.85,941.02 257.4,939.94 261.95,938.94 266.5,938.04 271.05,937.23 275.6,936.51 280.15,935.86 284.7,935.3 289.25,934.79 293.8,934.34 298.35,933.95 302.9,933.59 307.45,933.27 312,932.98 316.55,932.72 321.1,932.47 325.65,932.25 330.2,932.05 334.75,931.86 339.3,931.68 343.85,931.51 348.4,931.35 352.95,931.2 357.5,931.06 362.05,930.92 366.6,930.79 371.15,930.67 375.7,930.55 380.25,930.43 384.8,930.32 389.35,930.21 393.9,930.1 398.45,930 403,929.9"/></g>
<line x1="184.6" y1="946.6" x2="403" y2="901.4" stroke="#000" stroke-width="3.2" stroke-linecap="round"/>
<g><circle cx="312.6" cy="845.2" r="3.9"/><circle cx="402.6" cy="856.8" r="3.9"/><circle cx="247.8" cy="867.4" r="3.9"/><circle cx="300.6" cy="873" r="3.9"/><circle cx="220.8" cy="886.8" r="3.9"/><circle cx="263" cy="892.2" r="3.9"/><circle cx="282" cy="895.4" r="3.9"/><circle cx="235.8" cy="900.2" r="3.9"/><circle cx="206" cy="904.4" r="3.9"/><circle cx="319.4" cy="896.4" r="3.9"/><circle cx="246" cy="907.4" r="3.9"/><circle cx="265.8" cy="913.4" r="3.9"/><circle cx="327.4" cy="909.6" r="3.9"/><circle cx="333" cy="911" r="3.9"/><circle cx="215.4" cy="916.4" r="3.9"/><circle cx="225" cy="919" r="3.9"/><circle cx="239.6" cy="919" r="3.9"/><circle cx="242" cy="919.6" r="3.9"/><circle cx="285" cy="923" r="3.9"/><circle cx="344" cy="923.6" r="3.9"/><circle cx="258" cy="926" r="3.9"/><circle cx="258.6" cy="930" r="3.9"/><circle cx="274" cy="927" r="3.9"/><circle cx="271" cy="929.6" r="3.9"/><circle cx="259.8" cy="934" r="3.9"/><circle cx="221.6" cy="933.6" r="3.9"/><circle cx="231.2" cy="936" r="3.9"/><circle cx="212.2" cy="938.6" r="3.9"/><circle cx="306" cy="939.6" r="3.9"/><circle cx="211.6" cy="947.4" r="3.9"/><circle cx="221.6" cy="949.4" r="3.9"/><circle cx="242.6" cy="948.8" r="3.9"/><circle cx="276.6" cy="947.4" r="3.9"/><circle cx="282" cy="944.6" r="3.9"/><circle cx="214.4" cy="953" r="3.9"/><circle cx="185" cy="959.6" r="3.9"/><circle cx="255" cy="957" r="3.9"/><circle cx="264.6" cy="955.4" r="3.9"/><circle cx="226" cy="959.6" r="3.9"/><circle cx="230.6" cy="964" r="3.9"/><circle cx="219" cy="964" r="3.9"/><circle cx="267" cy="963.4" r="3.9"/><circle cx="336" cy="961.6" r="3.9"/><circle cx="333" cy="967" r="3.9"/><circle cx="361" cy="964.4" r="3.9"/><circle cx="211" cy="971.4" r="3.9"/><circle cx="217" cy="969.6" r="3.9"/><circle cx="235" cy="971.6" r="3.9"/><circle cx="244" cy="972.6" r="3.9"/><circle cx="274" cy="972" r="3.9"/></g>
<path d="M131 781V981.6H432.6" fill="none" stroke="#000" stroke-width="2.9" stroke-linecap="square"/>
<path d="M125.8 981.6H131M125.8 948.17H131M125.8 914.73H131M125.8 881.3H131M125.8 847.87H131M125.8 814.43H131M125.8 781H131M131 981.6V986.8M206.4 981.6V986.8M281.8 981.6V986.8M357.2 981.6V986.8M432.6 981.6V986.8" fill="none" stroke="#000" stroke-width="2.9"/>
<g font-family="'Liberation Sans', Arial, sans-serif" font-weight="bold" font-size="15"><text transform="translate(119.8 987.6) rotate(0.1)" text-anchor="end">0</text><text transform="translate(119.8 954.17) rotate(0.1)" text-anchor="end">250</text><text transform="translate(119.8 920.73) rotate(0.1)" text-anchor="end">500</text><text transform="translate(119.8 887.3) rotate(0.1)" text-anchor="end">750</text><text transform="translate(119.8 853.87) rotate(0.1)" text-anchor="end">1000</text><text transform="translate(119.8 820.43) rotate(0.1)" text-anchor="end">1250</text><text transform="translate(119.8 787) rotate(0.1)" text-anchor="end">1500</text><text transform="translate(131 1006.2) rotate(0.1)" text-anchor="middle">0</text><text transform="translate(206.4 1006.2) rotate(0.1)" text-anchor="middle">1</text><text transform="translate(281.8 1006.2) rotate(0.1)" text-anchor="middle">2</text><text transform="translate(357.2 1006.2) rotate(0.1)" text-anchor="middle">3</text><text transform="translate(432.6 1006.2) rotate(0.1)" text-anchor="middle">4</text></g>
<g font-family="'Liberation Serif', 'Times New Roman', serif" font-size="27"><text transform="translate(436.1 914.9) rotate(0.1) scale(0.95 1)">R=0.301</text><text transform="translate(436.1 943) rotate(0.1) scale(0.95 1)">r<tspan font-size="16" dx="-0.7" dy="-5.9">2</tspan><tspan dx="0.2" dy="5.9">=0.090</tspan></text><text transform="translate(436.1 974.5) rotate(0.1) scale(0.95 1)">p&lt;0.05</text></g>
<text transform="translate(204.1 1040.8) rotate(0.1)" font-family="'Liberation Serif', 'Times New Roman', serif" font-size="25.3">Bottleneck factor</text>
<text transform="translate(67 988) rotate(-89.9)" font-family="'Liberation Serif', 'Times New Roman', serif" font-size="25.3">Mean thickness (µm)</text>
<text transform="translate(7.5 739) rotate(0.1)" font-family="'Liberation Sans', Arial, sans-serif" font-weight="bold" font-size="30">G</text>
<clipPath id="cH"><rect x="747.1" y="778.4" width="304.7" height="202.7"/></clipPath>
<g clip-path="url(#cH)" fill="none" stroke="#000" stroke-width="2.1" stroke-dasharray="7 4.5"><polyline points="801.6,891.6 806.2,891.99 810.8,892.35 815.4,892.69 820,893.01 824.6,893.29 829.2,893.55 833.8,893.76 838.4,893.93 843,894.04 847.6,894.1 852.2,894.08 856.8,893.99 861.4,893.82 866,893.54 870.6,893.17 875.2,892.68 879.8,892.08 884.4,891.37 889,890.54 893.6,889.6 898.2,888.55 902.8,887.41 907.4,886.19 912,884.88 916.6,883.51 921.2,882.08 925.8,880.6 930.4,879.07 935,877.5 939.6,875.9 944.2,874.26 948.8,872.61 953.4,870.92 958,869.22 962.6,867.5 967.2,865.77 971.8,864.02 976.4,862.26 981,860.49 985.6,858.71 990.2,856.92 994.8,855.12 999.4,853.31 1004,851.5 1008.6,849.68 1013.2,847.86 1017.8,846.03 1022.4,844.2"/><polyline points="801.6,941.6 806.2,939.9 810.8,938.22 815.4,936.56 820,934.92 824.6,933.32 829.2,931.75 833.8,930.22 838.4,928.74 843,927.31 847.6,925.94 852.2,924.63 856.8,923.41 861.4,922.27 866,921.22 870.6,920.28 875.2,919.45 879.8,918.73 884.4,918.13 889,917.65 893.6,917.27 898.2,917 902.8,916.82 907.4,916.73 912,916.72 916.6,916.77 921.2,916.89 925.8,917.05 930.4,917.27 935,917.52 939.6,917.8 944.2,918.12 948.8,918.46 953.4,918.83 958,919.21 962.6,919.61 967.2,920.03 971.8,920.46 976.4,920.91 981,921.36 985.6,921.83 990.2,922.3 994.8,922.78 999.4,923.27 1004,923.77 1008.6,924.27 1013.2,924.77 1017.8,925.28 1022.4,925.8"/></g>
<line x1="801.6" y1="916.6" x2="1022.4" y2="885" stroke="#000" stroke-width="3.2" stroke-linecap="round"/>
<g><circle cx="918.6" cy="794" r="3.9"/><circle cx="837.4" cy="799.6" r="3.9"/><circle cx="853" cy="801.2" r="3.9"/><circle cx="1021.6" cy="842.4" r="3.9"/><circle cx="930.6" cy="847.4" r="3.9"/><circle cx="823.4" cy="852" r="3.9"/><circle cx="865" cy="856" r="3.9"/><circle cx="875" cy="861.6" r="3.9"/><circle cx="880.4" cy="865" r="3.9"/><circle cx="838.4" cy="869" r="3.9"/><circle cx="899.4" cy="873.6" r="3.9"/><circle cx="950.4" cy="872" r="3.9"/><circle cx="842.4" cy="889.4" r="3.9"/><circle cx="863.4" cy="889.6" r="3.9"/><circle cx="889" cy="890" r="3.9"/><circle cx="859" cy="894.6" r="3.9"/><circle cx="902.6" cy="893.4" r="3.9"/><circle cx="924" cy="894" r="3.9"/><circle cx="937.6" cy="890.6" r="3.9"/><circle cx="945.6" cy="889" r="3.9"/><circle cx="883.4" cy="895.6" r="3.9"/><circle cx="877.4" cy="898.8" r="3.9"/><circle cx="857.4" cy="900.4" r="3.9"/><circle cx="829" cy="901.6" r="3.9"/><circle cx="832.6" cy="903.2" r="3.9"/><circle cx="848.6" cy="913.6" r="3.9"/><circle cx="876" cy="910" r="3.9"/><circle cx="892" cy="912" r="3.9"/><circle cx="899.6" cy="909" r="3.9"/><circle cx="962" cy="913" r="3.9"/><circle cx="860" cy="919.4" r="3.9"/><circle cx="831.6" cy="926.4" r="3.9"/><circle cx="838.6" cy="932" r="3.9"/><circle cx="843" cy="935.4" r="3.9"/><circle cx="873" cy="929.6" r="3.9"/><circle cx="894" cy="930" r="3.9"/><circle cx="828.6" cy="942.6" r="3.9"/><circle cx="834" cy="947.4" r="3.9"/><circle cx="954.4" cy="945.4" r="3.9"/><circle cx="980" cy="950" r="3.9"/><circle cx="802" cy="954.4" r="3.9"/><circle cx="828" cy="959.6" r="3.9"/><circle cx="836.4" cy="960.4" r="3.9"/><circle cx="848" cy="961" r="3.9"/><circle cx="852.6" cy="958" r="3.9"/><circle cx="861.4" cy="963" r="3.9"/><circle cx="882" cy="954.6" r="3.9"/><circle cx="884.6" cy="955.6" r="3.9"/><circle cx="951.6" cy="961" r="3.9"/><circle cx="892" cy="968.6" r="3.9"/></g>
<path d="M747.1 778.4V981.1H1051.8" fill="none" stroke="#000" stroke-width="2.9" stroke-linecap="square"/>
<path d="M741.9 981.1H747.1M741.9 955.76H747.1M741.9 930.42H747.1M741.9 905.09H747.1M741.9 879.75H747.1M741.9 854.41H747.1M741.9 829.08H747.1M741.9 803.74H747.1M741.9 778.4H747.1M747.1 981.1V986.3M823.27 981.1V986.3M899.45 981.1V986.3M975.62 981.1V986.3M1051.8 981.1V986.3" fill="none" stroke="#000" stroke-width="2.9"/>
<g font-family="'Liberation Sans', Arial, sans-serif" font-weight="bold" font-size="15"><text transform="translate(735.9 987.1) rotate(0.1)" text-anchor="end">0</text><text transform="translate(735.9 961.76) rotate(0.1)" text-anchor="end">250</text><text transform="translate(735.9 936.42) rotate(0.1)" text-anchor="end">500</text><text transform="translate(735.9 911.09) rotate(0.1)" text-anchor="end">750</text><text transform="translate(735.9 885.75) rotate(0.1)" text-anchor="end">1000</text><text transform="translate(735.9 860.41) rotate(0.1)" text-anchor="end">1250</text><text transform="translate(735.9 835.08) rotate(0.1)" text-anchor="end">1500</text><text transform="translate(735.9 809.74) rotate(0.1)" text-anchor="end">1750</text><text transform="translate(735.9 784.4) rotate(0.1)" text-anchor="end">2000</text><text transform="translate(747.1 1005.7) rotate(0.1)" text-anchor="middle">0</text><text transform="translate(823.27 1005.7) rotate(0.1)" text-anchor="middle">1</text><text transform="translate(899.45 1005.7) rotate(0.1)" text-anchor="middle">2</text><text transform="translate(975.62 1005.7) rotate(0.1)" text-anchor="middle">3</text><text transform="translate(1051.8 1005.7) rotate(0.1)" text-anchor="middle">4</text></g>
<g font-family="'Liberation Serif', 'Times New Roman', serif" font-size="27"><text transform="translate(1051 913.3) rotate(0.1) scale(0.95 1)">R=0.152</text><text transform="translate(1051 941.5) rotate(0.1) scale(0.95 1)">r<tspan font-size="16" dx="-0.7" dy="-5.9">2</tspan><tspan dx="0.2" dy="5.9">=0.023</tspan></text><text transform="translate(1051 973.4) rotate(0.1) scale(0.95 1)">p=0.29</text></g>
<text transform="translate(816.3 1041.2) rotate(0.1)" font-family="'Liberation Serif', 'Times New Roman', serif" font-size="25.3">Bottleneck factor</text>
<text transform="translate(678 983) rotate(-89.9)" font-family="'Liberation Serif', 'Times New Roman', serif" font-size="25.3">Max. thickness (µm)</text>
<text transform="translate(595.3 738.7) rotate(0.1)" font-family="'Liberation Sans', Arial, sans-serif" font-weight="bold" font-size="30">H</text>
<clipPath id="cI"><rect x="1363.1" y="778.5" width="307.7" height="204.7"/></clipPath>
<g clip-path="url(#cI)" fill="none" stroke="#000" stroke-width="2.1" stroke-dasharray="7 4.5"><polyline points="1419,954.4 1423.62,954.04 1428.25,953.67 1432.88,953.28 1437.5,952.89 1442.12,952.47 1446.75,952.04 1451.38,951.58 1456,951.1 1460.62,950.59 1465.25,950.03 1469.88,949.43 1474.5,948.77 1479.12,948.04 1483.75,947.24 1488.38,946.34 1493,945.34 1497.62,944.23 1502.25,943 1506.88,941.65 1511.5,940.2 1516.12,938.64 1520.75,936.98 1525.38,935.25 1530,933.45 1534.62,931.6 1539.25,929.7 1543.88,927.75 1548.5,925.78 1553.12,923.78 1557.75,921.75 1562.38,919.71 1567,917.65 1571.62,915.57 1576.25,913.49 1580.88,911.39 1585.5,909.28 1590.12,907.17 1594.75,905.05 1599.38,902.92 1604,900.79 1608.62,898.65 1613.25,896.51 1617.88,894.37 1622.5,892.22 1627.12,890.07 1631.75,887.91 1636.38,885.76 1641,883.6"/><polyline points="1419,991.6 1423.62,989.5 1428.25,987.42 1432.88,985.34 1437.5,983.28 1442.12,981.24 1446.75,979.21 1451.38,977.21 1456,975.23 1460.62,973.29 1465.25,971.39 1469.88,969.53 1474.5,967.73 1479.12,966 1483.75,964.35 1488.38,962.79 1493,961.33 1497.62,959.98 1502.25,958.75 1506.88,957.64 1511.5,956.64 1516.12,955.74 1520.75,954.93 1525.38,954.2 1530,953.55 1534.62,952.94 1539.25,952.39 1543.88,951.87 1548.5,951.39 1553.12,950.93 1557.75,950.5 1562.38,950.08 1567,949.69 1571.62,949.3 1576.25,948.93 1580.88,948.57 1585.5,948.22 1590.12,947.87 1594.75,947.54 1599.38,947.2 1604,946.88 1608.62,946.56 1613.25,946.24 1617.88,945.92 1622.5,945.61 1627.12,945.31 1631.75,945 1636.38,944.7 1641,944.4"/></g>
<line x1="1419" y1="973" x2="1641" y2="914" stroke="#000" stroke-width="3.2" stroke-linecap="round"/>
<g><circle cx="1548.6" cy="804" r="3.9"/><circle cx="1482.6" cy="864" r="3.9"/><circle cx="1555.6" cy="877.6" r="3.9"/><circle cx="1517" cy="884.4" r="3.9"/><circle cx="1640.4" cy="889.4" r="3.9"/><circle cx="1497" cy="917" r="3.9"/><circle cx="1501" cy="917" r="3.9"/><circle cx="1509.4" cy="926.4" r="3.9"/><circle cx="1449.4" cy="934" r="3.9"/><circle cx="1470" cy="933" r="3.9"/><circle cx="1536.4" cy="933.4" r="3.9"/><circle cx="1580.4" cy="933" r="3.9"/><circle cx="1440" cy="953" r="3.9"/><circle cx="1445.6" cy="951" r="3.9"/><circle cx="1454.6" cy="947.6" r="3.9"/><circle cx="1493.6" cy="949" r="3.9"/><circle cx="1499.4" cy="948.4" r="3.9"/><circle cx="1481" cy="957" r="3.9"/><circle cx="1476.6" cy="961" r="3.9"/><circle cx="1459" cy="961.6" r="3.9"/><circle cx="1465" cy="964" r="3.9"/><circle cx="1473" cy="966" r="3.9"/><circle cx="1520.4" cy="958.4" r="3.9"/><circle cx="1542" cy="962.6" r="3.9"/><circle cx="1563" cy="960.4" r="3.9"/><circle cx="1569" cy="961.6" r="3.9"/><circle cx="1465" cy="971" r="3.9"/><circle cx="1475" cy="971" r="3.9"/><circle cx="1501" cy="969" r="3.9"/><circle cx="1506.6" cy="967" r="3.9"/><circle cx="1517" cy="967" r="3.9"/><circle cx="1511" cy="973" r="3.9"/><circle cx="1570" cy="970" r="3.9"/><circle cx="1598.4" cy="969.6" r="3.9"/><circle cx="1418.6" cy="974" r="3.9"/><circle cx="1444" cy="975" r="3.9"/><circle cx="1449" cy="974" r="3.9"/><circle cx="1455" cy="977" r="3.9"/><circle cx="1459" cy="979" r="3.9"/><circle cx="1470" cy="978" r="3.9"/><circle cx="1478" cy="979" r="3.9"/><circle cx="1490" cy="977" r="3.9"/><circle cx="1495" cy="975.6" r="3.9"/><circle cx="1493" cy="979" r="3.9"/><circle cx="1509" cy="977.6" r="3.9"/><circle cx="1572.6" cy="976.6" r="3.9"/><circle cx="1451" cy="980" r="3.9"/></g>
<path d="M1363.1 778.5V983.2H1670.8" fill="none" stroke="#000" stroke-width="2.9" stroke-linecap="square"/>
<path d="M1357.9 983.2H1363.1M1357.9 914.97H1363.1M1357.9 846.73H1363.1M1357.9 778.5H1363.1M1363.1 983.2V988.4M1440.02 983.2V988.4M1516.95 983.2V988.4M1593.88 983.2V988.4M1670.8 983.2V988.4" fill="none" stroke="#000" stroke-width="2.9"/>
<g font-family="'Liberation Sans', Arial, sans-serif" font-weight="bold" font-size="15.3"><text transform="translate(1351.9 989.32) rotate(0.1)" text-anchor="end">0</text><text transform="translate(1351.9 921.09) rotate(0.1)" text-anchor="end">250</text><text transform="translate(1351.9 852.85) rotate(0.1)" text-anchor="end">500</text><text transform="translate(1351.9 784.62) rotate(0.1)" text-anchor="end">750</text><text transform="translate(1363.1 1007.8) rotate(0.1)" text-anchor="middle">0</text><text transform="translate(1440.02 1007.8) rotate(0.1)" text-anchor="middle">1</text><text transform="translate(1516.95 1007.8) rotate(0.1)" text-anchor="middle">2</text><text transform="translate(1593.88 1007.8) rotate(0.1)" text-anchor="middle">3</text><text transform="translate(1670.8 1007.8) rotate(0.1)" text-anchor="middle">4</text></g>
<g font-family="'Liberation Serif', 'Times New Roman', serif" font-size="27"><text transform="translate(1671.2 911) rotate(0.1) scale(0.95 1)">R=0.354</text><text transform="translate(1671.2 940.2) rotate(0.1) scale(0.95 1)">r<tspan font-size="16" dx="-0.7" dy="-5.9">2</tspan><tspan dx="0.2" dy="5.9">=0.125</tspan></text><text transform="translate(1671.2 970.8) rotate(0.1) scale(0.95 1)">p&lt;0.05</text></g>
<text transform="translate(1435.8 1041.2) rotate(0.1)" font-family="'Liberation Serif', 'Times New Roman', serif" font-size="25.3">Bottleneck factor</text>
<text transform="translate(1303.5 980.8) rotate(-89.9)" font-family="'Liberation Serif', 'Times New Roman', serif" font-size="25.3">Min. thickness (µm)</text>
<text transform="translate(1222.6 739) rotate(0.1)" font-family="'Liberation Sans', Arial, sans-serif" font-weight="bold" font-size="30">I</text>
</svg></body></html>
